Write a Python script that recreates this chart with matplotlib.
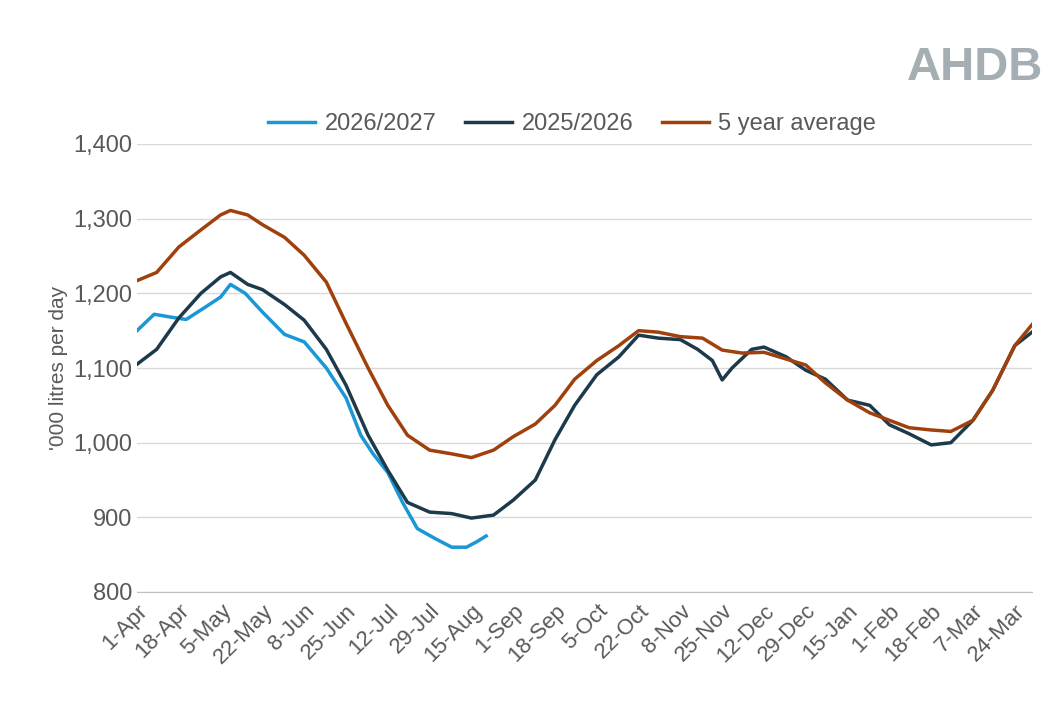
import matplotlib
matplotlib.use("Agg")
import matplotlib.pyplot as plt
import numpy as np

plt.rcParams['font.family'] = ['Liberation Sans', 'DejaVu Sans']

tick_labels = ["1-Apr","18-Apr","5-May","22-May","8-Jun","25-Jun","12-Jul","29-Jul","15-Aug",
               "1-Sep","18-Sep","5-Oct","22-Oct","8-Nov","25-Nov","12-Dec","29-Dec","15-Jan",
               "1-Feb","18-Feb","7-Mar","24-Mar"]
tick_days = [17*i for i in range(len(tick_labels))]

avg_days = [0,8,17,26,34,38,45,51,60,68,77,85,94,102,110,119,128,136,145,153,162,170,178,187,196,204,212,221,230,238,246,255,264,272,280,289,298,306,314,323,331,340,348,357,364]
avg_vals = [1217,1228,1262,1285,1305,1311,1305,1292,1275,1251,1215,1160,1100,1050,1010,990,985,980,990,1008,1025,1050,1085,1110,1130,1150,1148,1142,1140,1124,1120,1121,1112,1104,1080,1057,1040,1030,1020,1017,1015,1030,1070,1130,1158]

ly_days = [0,8,17,26,34,38,45,51,60,68,77,85,94,102,110,119,128,136,145,153,162,170,178,187,196,204,212,221,228,234,238,242,250,255,264,272,280,289,298,306,314,323,331,340,348,357,364]
ly_vals = [1105,1125,1167,1200,1222,1228,1212,1205,1185,1164,1125,1077,1010,963,920,907,905,899,903,923,950,1004,1050,1091,1115,1144,1140,1138,1125,1110,1084,1100,1125,1128,1115,1097,1085,1057,1050,1024,1012,997,1000,1030,1070,1130,1148]

cy_days = [0,7,14,20,28,34,38,44,51,60,68,77,85,91,96,102,108,114,121,128,134,138,142]
cy_vals = [1150,1172,1168,1165,1182,1195,1212,1200,1175,1145,1135,1100,1060,1010,985,960,920,885,872,860,860,867,875]

fig = plt.figure(figsize=(10.63, 7.19), dpi=100)
ax = fig.add_axes([137/1063, 1-592/719, (1032-137)/1063, (592-144)/719])
ax.plot(cy_days, cy_vals, color="#1a97d5", lw=2.5, label="2026/2027")
ax.plot(ly_days, ly_vals, color="#1c3a4b", lw=2.5, label="2025/2026")
ax.plot(avg_days, avg_vals, color="#a0410d", lw=2.5, label="5 year average")

ax.set_xlim(0, 364)
ax.set_ylim(800, 1400)
ax.set_yticks(range(800, 1401, 100))
ax.set_yticklabels([f"{v:,}" for v in range(800, 1401, 100)])
ax.set_xticks(tick_days)
ax.set_xticklabels(tick_labels, rotation=45, ha="right", rotation_mode="anchor")
ax.grid(axis="y", color="#d9d9d9", lw=1)
ax.set_axisbelow(True)
for s in ["top", "right", "left"]:
    ax.spines[s].set_visible(False)
ax.spines["bottom"].set_color("#bfbfbf")
ax.tick_params(axis="both", colors="#595959", labelsize=17, length=0)
ax.tick_params(axis="x", labelsize=16, pad=6)
ax.set_ylabel("'000 litres per day", color="#595959", fontsize=15)

fig.legend(loc="center", bbox_to_anchor=(572/1063, 1-124/719), ncol=3, frameon=False,
           fontsize=17, labelcolor="#595959", handlelength=2, columnspacing=1.2, handletextpad=0.4)
fig.text(975/1063, 1-68/719, "AHDB", fontsize=34, color="#a5aeb3", ha="center", va="center", fontweight="bold")

fig.savefig("out.png", dpi=100)
